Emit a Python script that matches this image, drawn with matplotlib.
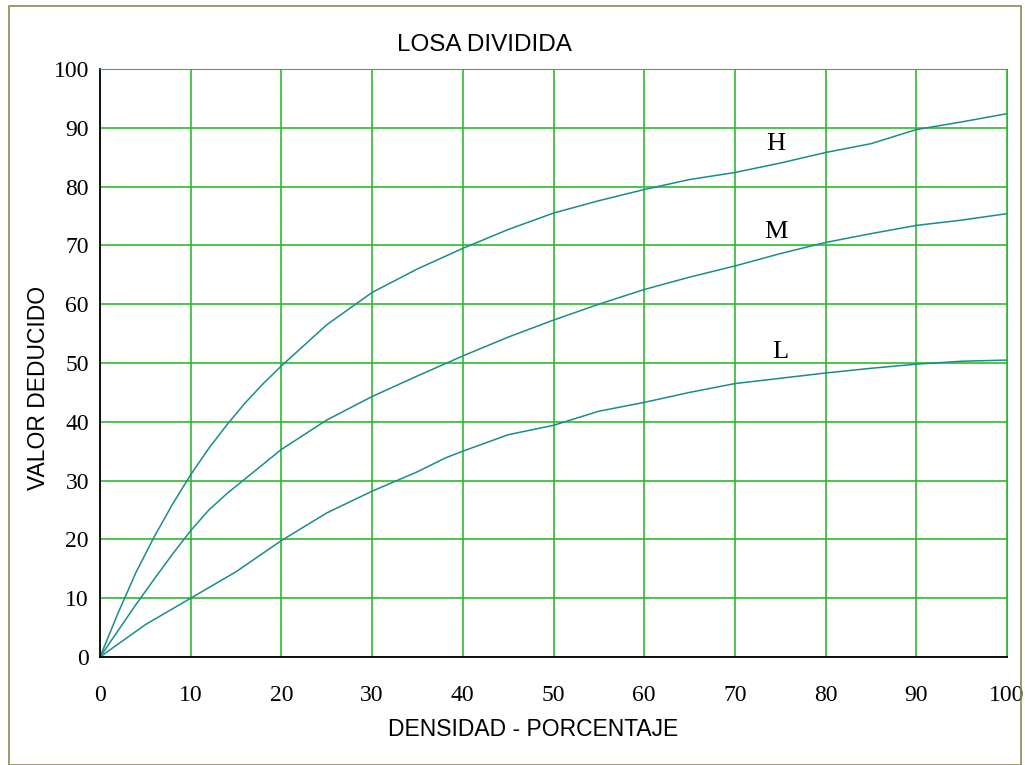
import matplotlib.pyplot as plt
from matplotlib.patches import Rectangle

# valores
dens_h = [0, 2, 4, 6, 8, 10, 12, 14, 16, 18, 20, 25, 30, 35, 40, 45, 50, 55, 60, 65, 70, 75, 80, 85, 90, 95, 100]
val_h = [0, 7.5, 14.5, 20.5, 26, 31, 35.5, 39.5, 43.2, 46.5, 49.5, 56.5, 62, 66, 69.5, 72.7, 75.5, 77.6, 79.5, 81.2, 82.4, 84, 85.8, 87.3, 89.7, 91, 92.4]

dens_m = [0, 2, 4, 6, 8, 10, 12, 14, 16, 18, 20, 25, 30, 35, 40, 45, 50, 55, 60, 65, 70, 75, 80, 85, 90, 95, 100]
val_m = [0, 4.5, 9, 13.3, 17.5, 21.5, 25, 27.8, 30.3, 32.8, 35.3, 40.3, 44.3, 47.8, 51.2, 54.4, 57.3, 60, 62.5, 64.6, 66.5, 68.6, 70.5, 72, 73.4, 74.3, 75.4]

dens_l = [0, 5, 10, 15, 20, 25, 30, 35, 38, 40, 45, 50, 55, 60, 65, 70, 75, 80, 85, 90, 95, 100]
val_l = [0, 5.5, 10, 14.5, 19.8, 24.5, 28.2, 31.5, 33.8, 35, 37.8, 39.4, 41.8, 43.3, 45, 46.5, 47.4, 48.3, 49.1, 49.8, 50.3, 50.5]

etiquetas = ['H', 'M', 'L']
pos_etiq = [(74.5, 87.3), (74.5, 72.2), (75.0, 51.8)]

teal = '#1a8c8c'
verde = '#2dbb2d'
sans = ['Liberation Sans Narrow', 'Liberation Sans']

fig = plt.figure(figsize=(10.25, 7.65), dpi=100)
ax = fig.add_axes([100/1025, 1 - 657/765, 907/1025, 588/765])

for x, y in [(dens_h, val_h), (dens_m, val_m), (dens_l, val_l)]:
    ax.plot(x, y, color=teal, lw=1.1)

for txt, (px, py) in zip(etiquetas, pos_etiq):
    ax.text(px, py, txt, fontsize=19, family='Liberation Serif', ha='center', va='center')

ax.set_xlim(0, 100)
ax.set_ylim(0, 100)
ax.set_xticks(range(0, 101, 10))
ax.set_yticks(range(0, 101, 10))
ax.grid(True, color=verde, lw=1.2)
ax.tick_params(length=0, labelsize=17)
ax.tick_params(axis='x', pad=20)
ax.tick_params(axis='y', pad=8)
for lab in ax.get_xticklabels() + ax.get_yticklabels():
    lab.set_family('Liberation Serif')
ax.spines['top'].set_color(verde)
ax.spines['right'].set_color(verde)
ax.spines['left'].set_linewidth(1.3)
ax.spines['bottom'].set_linewidth(1.3)

ax.set_xlabel('DENSIDAD - PORCENTAJE', fontsize=16.5, family=sans)
ax.xaxis.set_label_coords((533 - 100) / 907, -(718 - 657) / 588)
ax.set_ylabel('VALOR DEDUCIDO', fontsize=16.5, family=sans)
ax.yaxis.set_label_coords(-(100 - 50) / 907, (657 - 388) / 588)
fig.text(484/1025, 1 - 45/765, 'LOSA DIVIDIDA', fontsize=17.5, family=sans, ha='center', va='center')

fig.patches.append(Rectangle((9/1025, 0), 1012/1025, 1 - 6/765, transform=fig.transFigure,
                             fill=False, edgecolor='#8c8c50', lw=1.2))

fig.savefig('out.png')
